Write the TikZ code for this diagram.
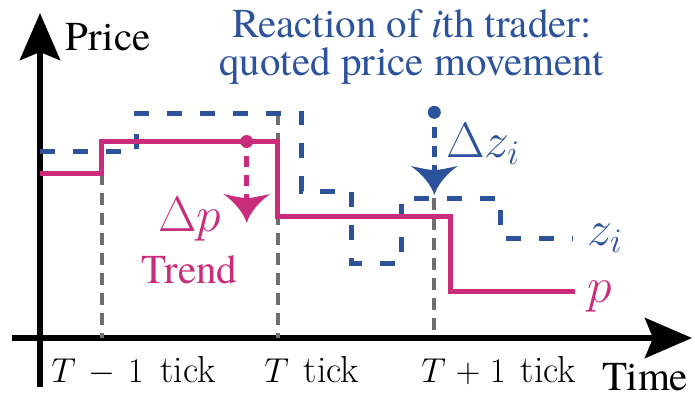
\documentclass[tikz,border=0pt]{standalone}
\usepackage{fontspec}
\newfontfamily\tnr{texgyretermes-regular.otf}[ItalicFont=texgyretermes-italic.otf]
\usetikzlibrary{arrows.meta}
\definecolor{mag}{RGB}{200,44,122}
\definecolor{blu}{RGB}{44,82,156}
\definecolor{gry}{RGB}{110,110,110}
\pgfdeclarearrow{
  name = Wing,
  setup code = {
    \pgfarrowssettipend{0pt}
    \pgfarrowssetbackend{-14.5pt}
    \pgfarrowssetlineend{-11pt}
  },
  drawing code = {
    \pgfpathmoveto{\pgfqpoint{0pt}{0pt}}
    \pgfpathcurveto{\pgfqpoint{-5pt}{1.5pt}}{\pgfqpoint{-10.5pt}{6pt}}{\pgfqpoint{-14.5pt}{11.75pt}}
    \pgfpathcurveto{\pgfqpoint{-13pt}{5pt}}{\pgfqpoint{-12.5pt}{2pt}}{\pgfqpoint{-12.5pt}{0pt}}
    \pgfpathcurveto{\pgfqpoint{-12.5pt}{-2pt}}{\pgfqpoint{-13pt}{-5pt}}{\pgfqpoint{-14.5pt}{-11.75pt}}
    \pgfpathcurveto{\pgfqpoint{-10.5pt}{-6pt}}{\pgfqpoint{-5pt}{-1.5pt}}{\pgfqpoint{0pt}{0pt}}
    \pgfpathclose
    \pgfusepathqfill
  }
}
\begin{document}
\begin{tikzpicture}[x=0.5pt,y=-0.5pt,
  axis/.style={line width=3pt,-{Stealth[length=23.5pt,width=20pt,inset=4pt]}},
  pline/.style={mag,line width=2.5pt},
  zline/.style={blu,line width=2.5pt,dash pattern=on 7.5pt off 9pt},
  guide/.style={gry,line width=2pt,dash pattern=on 6pt off 4pt},
  react/.style={line width=2.5pt,dash pattern=on 5.5pt off 4pt,dash phase=5.5pt,-Wing},
  dotn/.style={circle,fill,inner sep=0pt,minimum size=6.5pt},
  tlab/.style={font=\tnr\fontsize{20.5}{18.9}\selectfont,inner sep=0pt},
  mlab/.style={font=\fontsize{25.5}{28}\selectfont,inner sep=0pt},
  ticklab/.style={font=\fontsize{18.8}{22}\selectfont,inner sep=0pt,anchor=base west}]
\useasboundingbox (0,0) rectangle (695,398);
% axes
\coordinate (xs) at (12,338);
\coordinate (xe) at (692,338);
\coordinate (ys) at (40,387);
\coordinate (ye) at (40,13);
\draw[axis] (xs) -- (xe);
\draw[axis] (ys) -- (ye);
\node[tlab,anchor=base west] (price) at (65,50) {Price};
\node[tlab,anchor=base west] (time) at (602,390) {Time};
% guides
\coordinate (g1) at (101.7,173.3);
\coordinate (g2) at (277.7,113.3);
\coordinate (g3) at (434.3,198.3);
\coordinate (f1) at (101.7,338);
\coordinate (f2) at (277.7,338);
\coordinate (f3) at (434.3,338);
\draw[guide] (g1) -- (f1);
\draw[guide] (g2) -- (f2);
\draw[guide] (g3) -- (f3);
\node[ticklab] (tk1) at (51,382) {$T\mathbin{\mskip2.5mu-\mskip2.5mu}1$\hspace{0.45em}tick};
\node[ticklab] (tk2) at (264,382) {$T$\hspace{0.4em}tick};
\node[ticklab] (tk3) at (421,382) {$T\mathbin{\mskip1mu+\mskip1mu}1$\hspace{0.4em}tick};
% quoted price z_i
\draw[zline] (40,151.7) -| (136,113.3) -| (301.7,191) -| (351.7,263.3) -| (401.7,198.3) -| (500.7,238.3) -- (573,238.3);
\node[mlab,blu,anchor=base west] (zlab) at (587,245) {$z_i$};
% price p
\draw[pline] (40,173.3) -| (101.7,141.7) -| (277.7,216.7) -| (450.7,291.7) -- (575,291.7);
\node[mlab,mag,anchor=base west] (plab) at (587,302) {$p$};
% trend arrow
\node[dotn,mag] (dp) at (246.7,141.5) {};
\coordinate (dpt) at (246.7,223);
\draw[react,mag] (dp) -- (dpt);
\node[mlab,mag,anchor=base west] (dplab) at (158,231.7) {$\Delta p$};
\node[tlab,mag,anchor=base] (trend) at (189.5,283) {Trend};
% reaction arrow
\node[dotn,blu] (dz) at (434.3,112.3) {};
\coordinate (dzt) at (434.3,195);
\draw[react,blu] (dz) -- (dzt);
\node[mlab,blu,anchor=base west] (dzlab) at (446,157.3) {$\Delta z_i$};
\node[tlab,blu,align=center,anchor=north] (title) at (412,9.5) {Reaction of \textit{i}th trader:\\quoted price movement};
\end{tikzpicture}
\end{document}
